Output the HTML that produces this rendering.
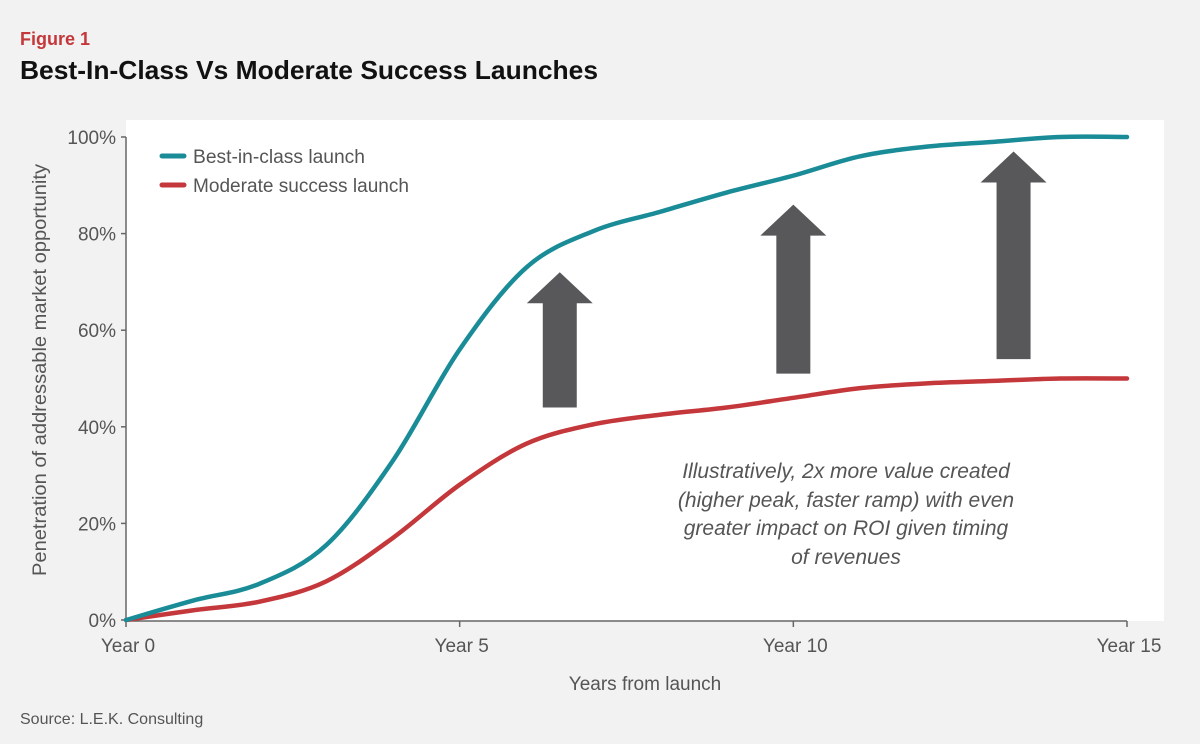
<!DOCTYPE html>
<html><head><meta charset="utf-8"><style>
body{margin:0;width:1200px;height:747px;background:#fff;font-family:"Liberation Sans",sans-serif;overflow:hidden}
#bg{position:absolute;left:0;top:0;width:1200px;height:744px;background:#f2f2f2}
svg{position:absolute;left:0;top:0}
</style></head><body>
<div id="bg"></div>
<svg width="1200" height="747">
<text x="20" y="45" font-size="18" font-weight="bold" fill="#c4373a">Figure 1</text>
<text x="20" y="79" font-size="26" font-weight="bold" fill="#111" textLength="578" lengthAdjust="spacingAndGlyphs">Best-In-Class Vs Moderate Success Launches</text>
<rect x="126" y="120" width="1038" height="501" fill="#fff"/>
<g id="axes"></g>
<g id="arrows"></g>
<g id="series"></g>
<g>
<line x1="162" y1="156" x2="184" y2="156" stroke="#1a8c98" stroke-width="5" stroke-linecap="round"/>
<text x="193" y="163" font-size="19" fill="#555" textLength="172" lengthAdjust="spacingAndGlyphs">Best-in-class launch</text>
<line x1="162" y1="185" x2="184" y2="185" stroke="#c4373a" stroke-width="5" stroke-linecap="round"/>
<text x="193" y="192" font-size="19" fill="#555" textLength="216" lengthAdjust="spacingAndGlyphs">Moderate success launch</text>
</g>
<g font-size="21" font-style="italic" fill="#555" text-anchor="middle">
<text x="846" y="478">Illustratively, 2x more value created</text>
<text x="846" y="507">(higher peak, faster ramp) with even</text>
<text x="846" y="535">greater impact on ROI given timing</text>
<text x="846" y="564">of revenues</text>
</g>
<text x="645" y="690" font-size="19" fill="#555" text-anchor="middle">Years from launch</text>
<text transform="translate(46,370) rotate(-90)" font-size="19" fill="#555" text-anchor="middle" textLength="412" lengthAdjust="spacingAndGlyphs">Penetration of addressable market opportunity</text>
<text x="20" y="724" font-size="16" fill="#555">Source: L.E.K. Consulting</text>
</svg>
<script>
const years=[0,1,2,3,4,5,6,7,8,9,10,11,12,13,14,15];
const bestInClass=[0,4,7.5,15.5,33,56,73,80.5,84.5,88.5,92,96,98,99,100,100];
const moderate=[0,2,3.8,8,17,28,36.5,40.5,42.5,44,46,48,49,49.5,50,50];
const yTicks=[0,20,40,60,80,100];
const xTickYears=[0,5,10,15];
const arrowYears=[6.5,10,13.3];
const arrowTops=[72,86,97];
const arrowBottoms=[44,51,54];
const NS="http://www.w3.org/2000/svg";
const X=v=>126+v*(1001/15);
const Y=v=>620-v*4.83;
function mk(t,a,p){const e=document.createElementNS(NS,t);for(const k in a)e.setAttribute(k,a[k]);p.appendChild(e);return e;}
const axes=document.getElementById('axes');
const yl=mk('line',{x1:126,y1:Y(100),x2:126,y2:621,stroke:'#666','stroke-width':1.5},axes);


const xl=mk('line',{x1:126,y1:621,x2:X(15),y2:621,stroke:'#666','stroke-width':1.5},axes);


yTicks.forEach(t=>{
 mk('line',{x1:121,y1:Y(t),x2:126,y2:Y(t),stroke:'#666','stroke-width':1.5},axes);
 const tx=mk('text',{x:116,y:Y(t)+7,'font-size':19,fill:'#555','text-anchor':'end'},axes);
 tx.textContent=t+'%';
 
 
});
xTickYears.forEach(t=>{
 mk('line',{x1:X(t),y1:621,x2:X(t),y2:627,stroke:'#666','stroke-width':1.5},axes);
 const tx=mk('text',{x:X(t)+2,y:652,'font-size':19,fill:'#555','text-anchor':'middle'},axes);
 tx.textContent='Year '+t;
 
 
});
function path(vals){
 const p=years.map((y,i)=>[X(y),Y(vals[i])]);
 let d='M'+p[0][0]+','+p[0][1];
 for(let i=0;i<p.length-1;i++){
  const p0=p[Math.max(0,i-1)],p1=p[i],p2=p[i+1],p3=p[Math.min(p.length-1,i+2)];
  const c1=[p1[0]+(p2[0]-p0[0])/6,p1[1]+(p2[1]-p0[1])/6];
  const c2=[p2[0]-(p3[0]-p1[0])/6,p2[1]-(p3[1]-p1[1])/6];
  d+=` C${c1[0]},${c1[1]} ${c2[0]},${c2[1]} ${p2[0]},${p2[1]}`;
 }
 return d;
}
const ser=document.getElementById('series');
const m=mk('path',{d:path(moderate),fill:'none',stroke:'#c4373a','stroke-width':4.5,'stroke-linecap':'round'},ser);


const b=mk('path',{d:path(bestInClass),fill:'none',stroke:'#1a8c98','stroke-width':4.5,'stroke-linecap':'round'},ser);


const ar=document.getElementById('arrows');
arrowYears.forEach((yr,i)=>{
 const cx=X(yr),top=Y(arrowTops[i]),bot=Y(arrowBottoms[i]);
 const pts=[[cx,top],[cx+33,top+31],[cx+17,top+31],[cx+17,bot],[cx-17,bot],[cx-17,top+31],[cx-33,top+31]];
 const a=mk('polygon',{points:pts.map(p=>p.join(',')).join(' '),fill:'#58585a'},ar);
 
 
});
</script>
</body></html>
